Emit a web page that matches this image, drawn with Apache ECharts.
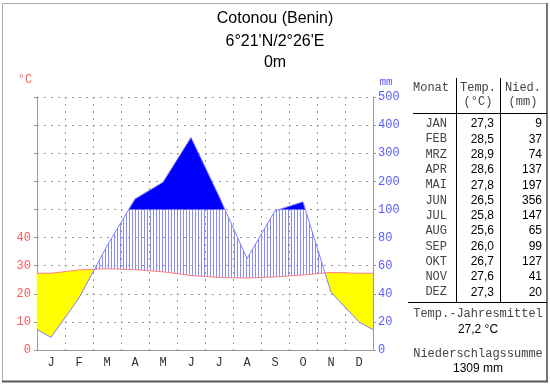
<!DOCTYPE html>
<html>
<head>
<meta charset="utf-8">
<script src="https://cdn.jsdelivr.net/npm/echarts@6/dist/echarts.min.js"></script>
<style>html,body{margin:0;padding:0;background:#fff}#c{width:550px;height:384px}</style>
</head>
<body>
<div id="c"></div>
<script>
// ---- data ----
const months = ['J','F','M','A','M','J','J','A','S','O','N','D'];
const monthAbbr = ['JAN','FEB','MRZ','APR','MAI','JUN','JUL','AUG','SEP','OKT','NOV','DEZ'];
const temp = [27.3,28.5,28.9,28.6,27.8,26.5,25.8,25.6,26.0,26.7,27.6,27.3];
const prec = [9,37,74,137,197,356,147,65,99,127,41,20];
const leftTicks = [0,10,20,30,40];
const rightTicks = [0,20,40,60,80,100,200,300,400,500];
const titleLines = ['Cotonou (Benin)', "6°21'N/2°26'E", '0m'];

// ---- helpers ----
// precipitation to the shared axis scale (10 °C = 20 mm up to 100 mm, then 100 mm per 10 units)
function pScale(p){ return p <= 100 ? p/2 : 50 + (p-100)/10; }
function rightLabel(v){ return v <= 50 ? v*2 : 100 + (v-50)*10; }
const Ps = prec.map(pScale);
const edgeT = (temp[0]+temp[11])/2, edgeP = (Ps[0]+Ps[11])/2;
let xs=[0], tv=[edgeT], pv=[edgeP];
for (let i=0;i<12;i++){ xs.push(i+0.5); tv.push(temp[i]); pv.push(Ps[i]); }
xs.push(12); tv.push(edgeT); pv.push(edgeP);
let rx=[], rt=[], rp=[];
for (let k=0;k<xs.length;k++){
  rx.push(xs[k]); rt.push(tv[k]); rp.push(pv[k]);
  if (k===xs.length-1) break;
  const c=[];
  const d0=pv[k]-tv[k], d1=pv[k+1]-tv[k+1];
  if (d0*d1<0) c.push(d0/(d0-d1));
  const e0=pv[k]-50, e1=pv[k+1]-50;
  if (e0*e1<0) c.push(e0/(e0-e1));
  c.sort((a,b)=>a-b);
  c.forEach(f=>{
    rx.push(xs[k]+f*(xs[k+1]-xs[k]));
    rt.push(tv[k]+f*(tv[k+1]-tv[k]));
    rp.push(pv[k]+f*(pv[k+1]-pv[k]));
  });
}
const pair = (arr)=>arr.map((v,i)=>[rx[i], v]);
// region bounds
const regions = [
  {top: rt, bot: rx.map((_,i)=>Math.min(rp[i], rt[i])), fill:'#ffff00'},
  {top: rx.map((_,i)=>Math.max(Math.min(rp[i],50), rt[i])), bot: rt, fill:'hatch'},
  {top: rx.map((_,i)=>Math.max(rp[i],50)), bot: rx.map(()=>50), fill:'#0000ff'}
];

// hatch pattern
const pc = document.createElement('canvas');
pc.width=3; pc.height=4;
const g = pc.getContext('2d');
g.fillStyle='#8a8aff'; g.fillRect(0,0,1,4);

const gridDot = {color:'#999', type:[2,5], width:1};
const mono = '"Liberation Mono", "DejaVu Sans Mono", monospace';
const sans = '"Liberation Sans", Arial, sans-serif';

// frame + table graphics
const gfx = [];
gfx.push({type:'line', shape:{x1:2.5,y1:3,x2:2.5,y2:382}, style:{stroke:'#aaa', lineWidth:1}});
gfx.push({type:'line', shape:{x1:2,y1:3.5,x2:548,y2:3.5}, style:{stroke:'#aaa', lineWidth:1}});
gfx.push({type:'line', shape:{x1:547,y1:3,x2:547,y2:382}, style:{stroke:'#777', lineWidth:2}});
gfx.push({type:'line', shape:{x1:2,y1:381.5,x2:548,y2:381.5}, style:{stroke:'#555', lineWidth:2}});
titleLines.forEach((t,i)=>gfx.push({type:'text', x:275, y:[19,42,63][i], style:{text:t, font:'16px '+sans, fill:'#000', textAlign:'center', textVerticalAlign:'middle'}}));
gfx.push({type:'text', x:25, y:80, style:{text:'°C', font:'12px '+mono, fill:'#ff5a5a', textAlign:'center', textVerticalAlign:'middle'}});
gfx.push({type:'text', x:386, y:82, style:{text:'mm', font:'11px '+mono, fill:'#5a5aff', textAlign:'center', textVerticalAlign:'middle'}});
gfx.push({type:'line', shape:{x1:456.5,y1:78,x2:456.5,y2:302}, style:{stroke:'#000', lineWidth:1}});
gfx.push({type:'line', shape:{x1:500.5,y1:78,x2:500.5,y2:302}, style:{stroke:'#000', lineWidth:1}});
gfx.push({type:'line', shape:{x1:413,y1:113.5,x2:547,y2:113.5}, style:{stroke:'#000', lineWidth:1}});
gfx.push({type:'line', shape:{x1:408,y1:302.5,x2:547,y2:302.5}, style:{stroke:'#000', lineWidth:1}});
const hdr = (t,x,y)=>gfx.push({type:'text', x, y, style:{text:t, font:'12px '+mono, fill:'#444', textAlign:'center', textVerticalAlign:'middle'}});
hdr('Monat',431,88); hdr('Temp.',478,88); hdr('(°C)',478,102); hdr('Nied.',523,88); hdr('(mm)',523,102);
monthAbbr.forEach((m,i)=>{
  const y = 124 + i*15.3;
  gfx.push({type:'text', x:447, y, style:{text:m, font:'12px '+mono, fill:'#444', textAlign:'right', textVerticalAlign:'middle'}});
  gfx.push({type:'text', x:494, y, style:{text:temp[i].toFixed(1).replace('.',','), font:'12px '+sans, fill:'#000', textAlign:'right', textVerticalAlign:'middle'}});
  gfx.push({type:'text', x:542, y, style:{text:String(prec[i]), font:'12px '+sans, fill:'#000', textAlign:'right', textVerticalAlign:'middle'}});
});
const meanT = temp.reduce((a,b)=>a+b,0)/12;
const sumP = prec.reduce((a,b)=>a+b,0);
hdr('Temp.-Jahresmittel',478,314);
gfx.push({type:'text', x:478, y:330, style:{text:meanT.toFixed(1).replace('.',',')+' °C', font:'12px '+sans, fill:'#000', textAlign:'center', textVerticalAlign:'middle'}});
hdr('Niederschlagssumme',478,354);
gfx.push({type:'text', x:478, y:369, style:{text:sumP+' mm', font:'12px '+sans, fill:'#000', textAlign:'center', textVerticalAlign:'middle'}});

const chart = echarts.init(document.getElementById('c'), null, {renderer:'canvas'});
chart.setOption({
  animation:false,
  backgroundColor:'#fff',
  grid:{left:37, right:177, top:97, bottom:34, containLabel:false},
  xAxis:[
    {type:'category', data:months, boundaryGap:true, position:'bottom',
     axisLine:{lineStyle:{color:'#999'}}, axisTick:{length:4, lineStyle:{color:'#999'}},
     splitLine:{show:true, lineStyle:gridDot},
     axisLabel:{color:'#333', fontFamily:mono, fontSize:12, margin:7}},
    {type:'value', min:0, max:12, show:false}
  ],
  yAxis:[
    {type:'value', min:0, max:90, interval:10, position:'left',
     axisLine:{show:true, lineStyle:{color:'#999'}}, axisTick:{show:true, length:3, lineStyle:{color:'#999'}},
     splitLine:{show:true, lineStyle:gridDot},
     axisLabel:{color:'#ff5a5a', fontFamily:mono, fontSize:12, margin:6,
       formatter:v=>leftTicks.indexOf(v)>=0 ? String(v) : ''}},
    {type:'value', min:0, max:90, interval:10, position:'right',
     axisLine:{show:true, lineStyle:{color:'#999'}}, axisTick:{show:true, length:3, lineStyle:{color:'#999'}},
     splitLine:{show:false},
     axisLabel:{color:'#5a5aff', fontFamily:mono, fontSize:12, margin:5,
       formatter:v=>{const r=rightLabel(v); return rightTicks.indexOf(r)>=0 ? String(r) : '';}}}
  ],
  series:[
    {type:'custom', name:'areas', xAxisIndex:1, silent:true, data:regions.map((_,i)=>[i]),
     renderItem:(params, api)=>{
       const r = regions[params.dataIndex];
       const pts = [];
       for (let i=0;i<rx.length;i++) pts.push(api.coord([rx[i], r.top[i]]));
       for (let i=rx.length-1;i>=0;i--) pts.push(api.coord([rx[i], r.bot[i]]));
       const fill = r.fill==='hatch' ? {image:pc, repeat:'repeat'} : r.fill;
       return {type:'polygon', shape:{points:pts}, style:{fill:fill, stroke:null}};
     }},
    {type:'line', name:'Temp', xAxisIndex:1, symbol:'none', silent:true,
     data:pair(rt), lineStyle:{color:'#ff8080', width:1}},
    {type:'line', name:'Nied', xAxisIndex:1, symbol:'none', silent:true,
     data:pair(rp), lineStyle:{color:'#8080ff', width:1}}
  ],
  graphic: gfx
});
</script>
</body>
</html>
